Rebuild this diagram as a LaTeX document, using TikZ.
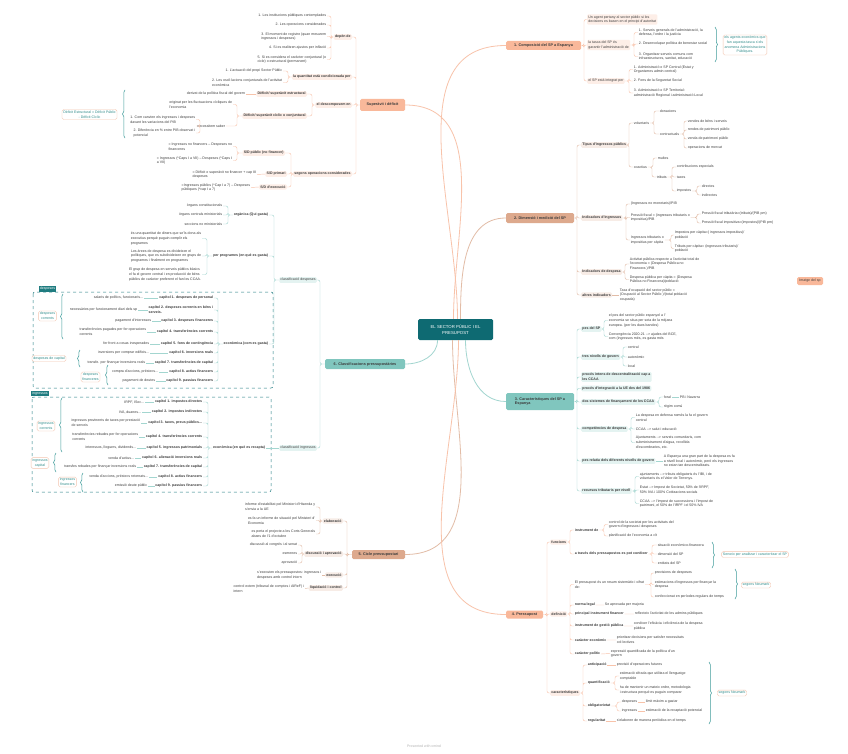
\documentclass[tikz,border=0pt]{standalone}
\usepackage{fontspec}
\setmainfont{Liberation Sans}
\usetikzlibrary{decorations.pathreplacing}

\definecolor{ink}{HTML}{3C3C3C}
\definecolor{salfill}{HTML}{F9B89A}
\definecolor{tanfill}{HTML}{DDA98D}
\definecolor{teafill}{HTML}{80C6BE}
\definecolor{rootfill}{HTML}{0E6A72}
\definecolor{salbg}{HTML}{FDEEE7}
\definecolor{tanbg}{HTML}{F7ECE6}
\definecolor{teabg}{HTML}{E4F3F1}
\definecolor{salline}{HTML}{F8C3AA}
\definecolor{tanline}{HTML}{E2BCA6}
\definecolor{tealine}{HTML}{A3D6D0}
\definecolor{brcol}{HTML}{3F9C9B}
\definecolor{notetext}{HTML}{2D8A88}
\definecolor{notedraw}{HTML}{F3C4AE}
\definecolor{teadark}{HTML}{1F7C80}

\newcommand\fs{\fontsize{3.55}{4.7}\selectfont}
\newcommand\ft{\fontsize{3.8}{4.8}\selectfont}
\newcommand\arr{-{}->}

\tikzset{
  leaf/.style={font=\fs, text=ink, inner sep=0.7pt, align=left},
  lw/.style={leaf, anchor=west},
  le/.style={leaf, anchor=east},
  bld/.style={font=\fs\bfseries},
  salbox/.style={fill=salbg, rounded corners=1.2pt, inner sep=1.2pt},
  tanbox/.style={fill=tanbg, rounded corners=1.2pt, inner sep=1.2pt},
  teabox/.style={fill=teabg, rounded corners=1.2pt, inner sep=1.2pt},
  topic/.style={font=\ft\bfseries, text=ink, rounded corners=1.5pt, inner sep=1pt},
  rootnode/.style={fill=rootfill, text=white, font=\fontsize{4.3}{5.6}\selectfont, align=center,
    rounded corners=1.5pt, minimum width=75pt, minimum height=21pt},
  sline/.style={draw=salline, line width=0.45pt, rounded corners=2pt},
  aline/.style={draw=tanline, line width=0.45pt, rounded corners=2pt},
  tline/.style={draw=tealine, line width=0.45pt, rounded corners=2pt},
  brc/.style={draw=brcol, line width=0.5pt, decorate, decoration={brace, amplitude=2.5pt}},
  note/.style={draw=notedraw, fill=white, rounded corners=1.5pt, text=notetext, font=\fs,
    inner sep=1.3pt, align=center, line width=0.4pt},
  tagbox/.style={fill=teadark, text=white, font=\fs, inner sep=1pt},
  dbox/.style={draw=teadark, dashed, rounded corners=2pt, line width=0.5pt}
}

\begin{document}
\begin{tikzpicture}[x=1pt,y=-1pt]
\fill[white] (0,0) rectangle (848,754);
\useasboundingbox (0,0) rectangle (848,754);

% centre i temes
\node[rootnode] (root) at (455.5,329.5) {EL SECTOR PÚBLIC I EL\\PRESUPOST};
\node[topic, fill=salfill, minimum width=75pt, minimum height=9pt] (t1) at (543.5,45.5) {1. Composició del SP a Espanya};
\node[topic, fill=tanfill, minimum width=68pt, minimum height=10pt] (t2) at (540,218) {2. Dimensió i medició del SP};
\node[topic, fill=teafill, minimum width=68pt, minimum height=17pt, align=left] (t3) at (540,401.5) {3. Característiques del SP a\\Espanya};
\node[topic, fill=salfill, minimum width=37pt, minimum height=8pt] (t4) at (524.5,614.5) {4. Pressupost};
\node[topic, fill=tanfill, minimum width=53pt, minimum height=9pt] (t5) at (378.5,554.5) {5. Cicle pressupostari};
\node[topic, fill=teafill, minimum width=80pt, minimum height=10pt] (t6) at (365,364) {6. Classificacions pressupostàries};
\node[topic, fill=salfill, minimum width=45pt, minimum height=12pt] (sup) at (382.5,105) {Superàvit i dèficit};
\node[topic, fill=salfill, minimum width=26pt, minimum height=8pt, font=\fs] (img) at (810,281) {Imatge del sp};

\draw[salline, line width=0.8pt] ([xshift=2pt]root.north) to[out=90,in=180] (t1.west);
\draw[salline, line width=0.8pt] ([xshift=-2pt]root.north) to[out=90,in=0] (sup.east);
\draw[tanline, line width=0.8pt] ([xshift=5pt]root.north) to[out=90,in=180] (t2.west);
\draw[tealine, line width=0.8pt] ([xshift=-18pt]root.south) to[out=-90,in=0] (t6.east);
\draw[tealine, line width=0.8pt] ([xshift=10pt]root.south) to[out=-90,in=180] (t3.west);
\draw[tanline, line width=0.8pt] ([xshift=-3pt]root.south) to[out=-90,in=0] (t5.east);
\draw[salline, line width=0.8pt] ([xshift=3pt]root.south) to[out=-90,in=180] (t4.west);

% Superàvit i dèficit
\node[le, salbox, bld] (depen) at (352,37) {depèn de};
\node[le] (dep1) at (327,16) {1. Les institucions públiques contemplades};
\node[le] (dep2) at (327,25) {2. Les operacions considerades};
\node[le] (dep3) at (327,36.5) {3. El moment de registre (quan mesurem\\ingressos i despeses)};
\node[le] (dep4) at (327,48) {4. Si es realitzen ajustos per inflació};
\node[le] (dep5) at (327,59.5) {5. Si es considera el caràcter conjuntural (o\\cicle) o estructural (permanent)};
\node[le, salbox, bld] (quant) at (352,77) {la quantitat està condicionada per};
\node[le] (quantA) at (283,71) {1. L'actuació del propi Sector Públic};
\node[le] (quantB) at (283,82.5) {2. Les oscil·lacions conjunturals de l'activitat\\econòmica};
\node[le, salbox, bld] (desc) at (352,105) {el descomposem en};
\node[le, salbox, bld] (estr) at (307,94) {Dèficit/ superàvit estructural};
\node[le] (estrA) at (246,94) {derivat de la política fiscal del govern};
\node[le, salbox, bld] (cicl) at (307,116) {Dèficit/ superàvit cíclic o conjuntural};
\node[le] (ciclA) at (233,104.5) {originat per les fluctuacions cícliques de\\l'economia};
\node[le] (neces) at (226,126) {necessitem saber};
\node[le] (necesA) at (196,119.5) {1. Com canvien els ingressos i despeses\\davant les variacions del PIB};
\node[le] (necesB) at (196,133) {2. Diferència en \% entre PIB observat i\\potencial};
\node[le, salbox, bld] (segons) at (352,174) {segons operacions considerades};
\node[le, salbox, bld] (sdpub) at (285,153) {S/D públic (no financer)};
\node[le] (sdpubA) at (233,146.5) {= Ingressos no financers – Despeses no\\financeres};
\node[le] (sdpubB) at (233,160.5) {= Ingressos (*Caps I a VII) – Despeses (*Caps I\\a VII)};
\node[le, salbox, bld] (sdprim) at (287,174) {S/D primari};
\node[le] (sdprimA) at (257,174.5) {= Dèficit o superàvit no financer + cap III\\despeses};
\node[le, salbox, bld] (sdexec) at (287,187) {S/D d'execució};
\node[le] (sdexecA) at (251,187.5) {=Ingressos públics (*Cap I a 7) – Despeses\\públiques (*cap I a 7)};
\draw[brc] (125,138) -- (125,90);
\node[note] (defnote) at (89.5,114.5) {Dèficit Estructural = Dèficit Públic\\- Dèficit Cíclic};

\draw[sline] (depen.east) -- ++(4,0) |- (sup.west) (quant.east) -- ++(4,0) |- (sup.west)
  (desc.east) -- ++(4,0) |- (sup.west) (segons.east) -- ++(4,0) |- (sup.west);
\draw[sline] (dep1.east) -- ++(4,0) |- (depen.west) (dep2.east) -- ++(4,0) |- (depen.west)
  (dep3.east) -- ++(4,0) |- (depen.west) (dep4.east) -- ++(4,0) |- (depen.west)
  (dep5.east) -- ++(4,0) |- (depen.west);
\draw[sline] (quantA.east) -- ++(5,0) |- (quant.west) (quantB.east) -- ++(5,0) |- (quant.west);
\draw[sline] (estr.east) -- ++(5,0) |- (desc.west) (cicl.east) -- ++(5,0) |- (desc.west);
\draw[sline] (estrA.east) -- (estr.west);
\draw[sline] (ciclA.east) -- ++(4,0) |- (cicl.west) (neces.east) -- ++(11,0) |- (cicl.west);
\draw[sline] (necesA.east) -- ++(4,0) |- (neces.west) (necesB.east) -- ++(4,0) |- (neces.west);
\draw[sline] (sdpub.east) -- ++(6,0) |- (segons.west) (sdprim.east) -- ++(4,0) |- (segons.west)
  (sdexec.east) -- ++(4,0) |- (segons.west);
\draw[sline] (sdpubA.east) -- ++(4,0) |- (sdpub.west) (sdpubB.east) -- ++(4,0) |- (sdpub.west);
\draw[sline] (sdprimA.east) -- (sdprim.west);
\draw[sline] (sdexecA.east) -- (sdexec.west);

% 6. Classificacions pressupostàries
\node[le, teabox] (cdesp) at (317,280) {classificació despeses};
\node[le, teabox] (cingr) at (317,448) {classificació ingressos};
\node[le, bld] (organ) at (269,215) {orgànica (Qui gasta)};
\node[le] (org1) at (223,206) {òrgans constitucionals};
\node[le] (org2) at (223,215) {òrgans centrals ministerials};
\node[le] (org3) at (223,224) {seccions no ministerials};
\node[le, bld] (progr) at (269,256) {per programes (en què es gasta)};
\node[le] (prog1) at (202,238.5) {és una quantitat de diners que se'ls dona als\\executius perquè puguin complir els\\programes};
\node[le] (prog2) at (202,256) {Les àrees de despesa es divideixen el\\polítiques, que es subdivideixen en grups de\\programes i finalment en programes};
\node[le] (prog3) at (202,274.5) {El grup de despesa en serveis públics bàsics\\el fa el govern central i en producció de béns\\públics de caràcter preferent el fan les CCAA.};
\node[le, bld] (econd) at (269,344) {econòmica (com es gasta)};
\node[le, bld] (dc1) at (214,298) {capítol 1. despeses de personal};
\node[le, bld] (dc2) at (214,310) {capítol 2. despeses corrents en béns i\\serveis.};
\node[le, bld] (dc3) at (214,321) {capítol 3. despeses financeres};
\node[le, bld] (dc4) at (214,332) {capítol 4. transferències corrents};
\node[le, bld] (dc5) at (214,344) {capítol 5. fons de contingència};
\node[le, bld] (dc6) at (214,353) {capítol 6. inversions reals};
\node[le, bld] (dc7) at (214,363) {capítol 7. transferències de capital};
\node[le, bld] (dc8) at (214,372) {capítol 8. actius financers};
\node[le, bld] (dc9) at (214,381) {capítol 9. passius financers};
\node[le] (dl1) at (144,298) {salaris de polítics, funcionaris...};
\node[le] (dl2) at (138,310) {necessàries per funcionament diari dels sp};
\node[le] (dl3) at (152,321) {pagament d'interessos};
\node[le] (dl4) at (147,332) {transferències pagades per fer operacions\\corrents};
\node[le] (dl5) at (150,344) {fer front a cosas inesperades};
\node[le] (dl6) at (150,353) {inversions per comprar edificis...};
\node[le] (dl7) at (146,363) {transfe. per finançar inversions reals};
\node[le] (dl8) at (159,372) {compra d'accions, préstecs...};
\node[le] (dl9) at (156,381) {pagament de deutes};
\node[le, bld] (econi) at (266,448) {econòmica (en què es recapta)};
\node[le, bld] (ic1) at (203,402) {capítol 1. impostos directes};
\node[le, bld] (ic2) at (203,412) {capítol 2. impostos indirectes};
\node[le, bld] (ic3) at (203,423) {capítol 3. taxes, preus públics...};
\node[le, bld] (ic4) at (203,437) {capítol 4. transferències corrents};
\node[le, bld] (ic5) at (203,448) {capítol 5. ingressos patrimonials};
\node[le, bld] (ic6) at (203,458) {capítol 6. alienació inversions reals};
\node[le, bld] (ic7) at (203,467) {capítol 7. transferències de capital};
\node[le, bld] (ic8) at (203,477) {capítol 8. actius financers};
\node[le, bld] (ic9) at (203,486) {capítol 9. passius financers};
\node[le] (il1) at (145,402) {IRPF, ISoc...};
\node[le] (il2) at (142,412) {IVA, duanes...};
\node[le] (il3) at (141,423) {ingressos provinents de taxes per prestació\\de serveis};
\node[le] (il4) at (139,437) {transferències rebudes per fer operacions\\corrents};
\node[le] (il5) at (137,448) {interessos, lloguers, dividends...};
\node[le] (il6) at (135,458) {venda d'actius...};
\node[le] (il7) at (137,467) {transfes rebudes per finançar inversions reals};
\node[le] (il8) at (149,477) {venda d'accions, préstecs retornats...};
\node[le] (il9) at (148,486) {emissió deute públic};

\draw[dbox] (33,292) rectangle (273,388);
\node[tagbox] (tagdesp) at (47.5,289) {despeses};
\draw[dbox] (32,397) rectangle (271,492);
\node[tagbox] (tagingr) at (40,393.5) {ingressos};
\node[note] (gdc) at (47.5,316) {despeses\\corrents};
\draw[brc] (63,339) -- (63,294);
\node[note] (gdk) at (49,358.5) {despeses de capital};
\draw[brc] (80,367) -- (80,350);
\node[note] (gdf) at (90.5,377) {despeses\\financeres};
\draw[brc] (108,385) -- (108,365);
\node[note] (gic) at (46,426) {ingressos\\corrents};
\draw[brc] (62,452) -- (62,398);
\node[note] (gik) at (40,463) {ingressos\\capital};
\draw[brc] (56,472) -- (56,453);
\node[note] (gif) at (67.5,482) {ingressos\\financers};
\draw[brc] (83,492) -- (83,473);

\draw[tline] (cdesp.east) -- ++(3,0) |- (t6.west) (cingr.east) -- ++(3,0) |- (t6.west);
\draw[tline] (organ.east) -- ++(5,0) |- (cdesp.west) (progr.east) -- ++(5,0) |- (cdesp.west)
  (econd.east) -- ++(5,0) |- (cdesp.west);
\draw[tline] (org1.east) -- ++(5,0) |- (organ.west) (org2.east) -- ++(5,0) |- (organ.west)
  (org3.east) -- ++(5,0) |- (organ.west);
\draw[tline] (prog1.east) -- ++(5,0) |- (progr.west) (prog2.east) -- ++(5,0) |- (progr.west)
  (prog3.east) -- ++(5,0) |- (progr.west);
\draw[tline] (dc1.east) -- ++(4,0) |- (econd.west) (dc2.east) -- ++(4,0) |- (econd.west)
  (dc3.east) -- ++(4,0) |- (econd.west) (dc4.east) -- ++(4,0) |- (econd.west)
  (dc5.east) -- ++(4,0) |- (econd.west) (dc6.east) -- ++(4,0) |- (econd.west)
  (dc7.east) -- ++(4,0) |- (econd.west) (dc8.east) -- ++(4,0) |- (econd.west)
  (dc9.east) -- ++(4,0) |- (econd.west);
\draw[tline] (dl1.east) -- (dc1.west) (dl2.east) -- (dc2.west) (dl3.east) -- (dc3.west)
  (dl4.east) -- (dc4.west) (dl5.east) -- (dc5.west) (dl6.east) -- (dc6.west)
  (dl7.east) -- (dc7.west) (dl8.east) -- (dc8.west) (dl9.east) -- (dc9.west);
\draw[tline] (econi.east) -- (cingr.west);
\draw[tline] (ic1.east) -- ++(5,0) |- (econi.west) (ic2.east) -- ++(5,0) |- (econi.west)
  (ic3.east) -- ++(5,0) |- (econi.west) (ic4.east) -- ++(5,0) |- (econi.west)
  (ic5.east) -- ++(5,0) |- (econi.west) (ic6.east) -- ++(5,0) |- (econi.west)
  (ic7.east) -- ++(5,0) |- (econi.west) (ic8.east) -- ++(5,0) |- (econi.west)
  (ic9.east) -- ++(5,0) |- (econi.west);
\draw[tline] (il1.east) -- (ic1.west) (il2.east) -- (ic2.west) (il3.east) -- (ic3.west)
  (il4.east) -- (ic4.west) (il5.east) -- (ic5.west) (il6.east) -- (ic6.west)
  (il7.east) -- (ic7.west) (il8.east) -- (ic8.west) (il9.east) -- (ic9.west);

% 5. Cicle pressupostari
\node[le, tanbox, bld] (elab) at (343,521) {elaboració};
\node[le, tanbox, bld] (disc) at (343,554) {discussió i aprovació};
\node[le, tanbox, bld] (exec) at (343,575) {execució};
\node[le, tanbox, bld] (liqu) at (343,588) {liquidació i control};
\node[le] (elab1) at (316,507) {informe d'estabilitat pel Ministeri d'Hisenda y\\s'envia a la UE};
\node[le] (elab2) at (316,520.5) {es fa un informe de situació pel Ministeri d'\\Economia};
\node[le] (elab3) at (316,534) {es porta el projecte a les Corts Generals\\abans de l'1 d'octubre};
\node[le] (disc1) at (298,545) {discussió al congrés i al senat};
\node[le] (disc2) at (298,554) {esmenes};
\node[le] (disc3) at (298,563) {aprovació};
\node[le] (exec1) at (322,575) {s'executen els pressupostos: ingressos i\\despeses amb control intern};
\node[le] (liqu1) at (305,588.5) {control extern (tribunal de comptes i AIReF) i\\intern};
\draw[aline] (elab.east) -- ++(4,0) |- (t5.west) (disc.east) -- ++(4,0) |- (t5.west)
  (exec.east) -- ++(4,0) |- (t5.west) (liqu.east) -- ++(4,0) |- (t5.west);
\draw[aline] (elab1.east) -- ++(4,0) |- (elab.west) (elab2.east) -- ++(4,0) |- (elab.west)
  (elab3.east) -- ++(4,0) |- (elab.west);
\draw[aline] (disc1.east) -- ++(4,0) |- (disc.west) (disc2.east) -- ++(4,0) |- (disc.west)
  (disc3.east) -- ++(4,0) |- (disc.west);
\draw[aline] (exec1.east) -- (exec.west);
\draw[aline] (liqu1.east) -- (liqu.west);

% 1. Composició del SP a Espanya
\node[lw, salbox] (t1a) at (587,19.5) {Un agent pertany al sector públic si les\\decisions es basen en el principi d'autoritat};
\node[lw, salbox] (t1b) at (587,45) {la tasca del SP és\\garantir l'administració de};
\node[lw, salbox] (t1c) at (587,81) {el SP està integrat per};
\node[lw] (t1b1) at (638,32.5) {1. Serveis generals de l'administració, la\\defensa, l'ordre i la justícia};
\node[lw] (t1b2) at (638,44) {2. Desenvolupar política de benestar social};
\node[lw] (t1b3) at (638,56.5) {3. Organitzar serveis comuns com\\infraestructures, sanitat, educació};
\draw[brc] (715,27) -- (715,62);
\node[note] (t1note) at (745,45) {els agents econòmics que\\fan aquesta tasca s'els\\anomena Administracions\\Públiques.};
\node[lw] (t1c1) at (633,69.5) {1. Administració o SP Central (Estat y\\Organismes admin central)};
\node[lw] (t1c2) at (633,81) {2. Fons de la Seguretat Social};
\node[lw] (t1c3) at (633,93) {3. Administració o SP Territorial:\\administració Regional i administració Local};
\draw[sline] (t1a.west) -- ++(-3,0) |- (t1.east) (t1b.west) -- ++(-3,0) |- (t1.east)
  (t1c.west) -- ++(-3,0) |- (t1.east);
\draw[sline] (t1b1.west) -- ++(-4,0) |- (t1b.east) (t1b2.west) -- ++(-4,0) |- (t1b.east)
  (t1b3.west) -- ++(-4,0) |- (t1b.east);
\draw[sline] (t1c1.west) -- ++(-4,0) |- (t1c.east) (t1c2.west) -- ++(-4,0) |- (t1c.east)
  (t1c3.west) -- ++(-4,0) |- (t1c.east);

% 2. Dimensió i medició del SP
\node[lw, tanbox, bld] (tipus) at (581,145) {Tipus d'ingressos públics};
\node[lw] (volu) at (633,123) {voluntaris};
\node[lw] (dona) at (659,111) {donacions};
\node[lw] (contr) at (659,134) {contractuals};
\node[lw] (contr1) at (687,121) {vendes de béns i serveis};
\node[lw] (contr2) at (687,130) {rendes de patrimoni públic};
\node[lw] (contr3) at (687,139) {venda de patrimoni públic};
\node[lw] (contr4) at (687,148) {operacions de mercat};
\node[lw] (coac) at (633,167) {coactius};
\node[lw] (mult) at (657,158) {multes};
\node[lw] (trib) at (656,177) {tributs};
\node[lw] (trib1) at (676,167) {contribucions especials};
\node[lw] (trib2) at (676,177) {taxes};
\node[lw] (trib3) at (676,191) {impostos};
\node[lw] (imp1) at (701,186) {directes};
\node[lw] (imp2) at (701,195) {indirectes};
\node[lw, tanbox, bld] (inding) at (581,218) {Indicadors d'ingressos};
\node[lw] (ii1) at (630,204) {(Ingressos no monetaris)/PIB};
\node[lw] (ii2) at (630,217.5) {Pressió fiscal = (ingressos tributaris o\\impositius)/PIB};
\node[lw] (ii3) at (630,240) {Ingressos tributaris o\\impositius per càpita};
\node[lw] (ii21) at (701,214) {Pressió fiscal tributària=(tributs)/(PIB pm)};
\node[lw] (ii22) at (701,223) {Pressió fiscal impositiva=(impostos)/(PIB pm)};
\node[lw] (ii31) at (674,235) {Impostos per càpita=( ingressos impositius)/\\població};
\node[lw] (ii32) at (674,248.5) {Tributs per càpita= (ingressos tributaris)/\\població};
\node[lw, tanbox, bld] (inddes) at (581,272) {Indicadors de despesa};
\node[lw] (id1) at (629,264) {Activitat pública respecte a l'activitat total de\\l'economia = (Despesa Pública no\\Financera )/PIB};
\node[lw] (id2) at (629,279.5) {Despesa pública per càpita = (Despesa\\Pública no Financera)/població};
\node[lw, tanbox, bld] (altres) at (581,295) {altres indicadors};
\node[lw] (alt1) at (619,295) {Taxa d'ocupació del sector públic =\\(Ocupació al Sector Públic )/(total població\\ocupada)};
\draw[aline] (tipus.west) -- ++(-4,0) |- (t2.east) (inding.west) -- ++(-4,0) |- (t2.east)
  (inddes.west) -- ++(-4,0) |- (t2.east) (altres.west) -- ++(-4,0) |- (t2.east);
\draw[aline] (volu.west) -- ++(-4,0) |- (tipus.east) (coac.west) -- ++(-4,0) |- (tipus.east);
\draw[aline] (dona.west) -- ++(-5,0) |- (volu.east) (contr.west) -- ++(-5,0) |- (volu.east);
\draw[aline] (contr1.west) -- ++(-3,0) |- (contr.east) (contr2.west) -- ++(-3,0) |- (contr.east)
  (contr3.west) -- ++(-3,0) |- (contr.east) (contr4.west) -- ++(-3,0) |- (contr.east);
\draw[aline] (mult.west) -- ++(-4,0) |- (coac.east) (trib.west) -- ++(-4,0) |- (coac.east);
\draw[aline] (trib1.west) -- ++(-4,0) |- (trib.east) (trib2.west) -- ++(-4,0) |- (trib.east)
  (trib3.west) -- ++(-4,0) |- (trib.east);
\draw[aline] (imp1.west) -- ++(-4,0) |- (trib3.east) (imp2.west) -- ++(-4,0) |- (trib3.east);
\draw[aline] (ii1.west) -- ++(-4,0) |- (inding.east) (ii2.west) -- ++(-4,0) |- (inding.east)
  (ii3.west) -- ++(-4,0) |- (inding.east);
\draw[aline] (ii21.west) -- ++(-4,0) |- (ii2.east) (ii22.west) -- ++(-4,0) |- (ii2.east);
\draw[aline] (ii31.west) -- ++(-3,0) |- (ii3.east) (ii32.west) -- ++(-3,0) |- (ii3.east);
\draw[aline] (id1.west) -- ++(-4,0) |- (inddes.east) (id2.west) -- ++(-4,0) |- (inddes.east);
\draw[aline] (alt1.west) -- (altres.east);

% 3. Característiques del SP a Espanya
\node[lw, teabox, bld] (pes) at (581,329) {pes del SP};
\node[lw] (pes1) at (608,320.5) {el pes del sector públic espanyol a l'\\economia se situa per sota de la mitjana\\europea. (per les dues bandes)};
\node[lw] (pes2) at (608,336.5) {Convergència 2020-21 \arr{} ajudes del BCE,\\com (ingressos més, es gasta més};
\node[lw, teabox, bld] (nivells) at (581,357) {tres nivells de govern};
\node[lw] (niv1) at (627,347) {central};
\node[lw] (niv2) at (627,357) {autonòmic};
\node[lw] (niv3) at (627,366) {local};
\node[lw, teabox, bld] (descen) at (581,377) {procés intens de descentralització cap a\\les CCAA};
\node[lw, teabox, bld] (integr) at (581,388.5) {procés d'integració a la UE des del 1986};
\node[lw, teabox, bld] (finan) at (581,402) {dos sistemes de finançament de les CCAA};
\node[lw] (foral) at (663,397) {foral};
\node[lw] (navarra) at (679,397) {PB i Navarra};
\node[lw] (comu) at (663,407) {règim comú};
\node[lw, teabox, bld] (compet) at (581,429) {competències de despesa};
\node[lw] (comp1) at (635,417.5) {La despesa en defensa només la fa el govern\\central};
\node[lw] (comp2) at (635,429) {CCAA \arr{} salut i educació};
\node[lw] (comp3) at (635,442.5) {Ajuntaments \arr{} serveis comunitaris, com\\subministrament d'aigua, recollida\\d'escombraries, etc.};
\node[lw, teabox, bld] (relat) at (581,461) {pes relatiu dels diferents nivells de govern};
\node[lw] (relat1) at (663,461) {A Espanya una gran part de la despesa es fa\\a nivell local i autonòmic, però els ingressos\\no estan tan descentralitzats.};
\node[lw, teabox, bld] (recur) at (581,491) {recursos tributaris per nivell};
\node[lw] (rec1) at (639,476.5) {ajuntaments \arr{} tributs obligatoris és l'IBI, i de\\voluntaris és el Valor de Terrenys.};
\node[lw] (rec2) at (639,490) {Estat \arr{} Impost de Societat, 50\% de l'IRPF,\\50\% IVA i 100\% Cotitzacions socials};
\node[lw] (rec3) at (639,503.5) {CCAA \arr{} l'impost de successions i l'impost de\\patrimoni, el 50\% de l'IRPF i el 50\% IVA};
\draw[tline] (pes.west) -- ++(-4,0) |- (t3.east) (nivells.west) -- ++(-4,0) |- (t3.east)
  (descen.west) -- ++(-4,0) |- (t3.east) (integr.west) -- ++(-4,0) |- (t3.east)
  (finan.west) -- ++(-4,0) |- (t3.east) (compet.west) -- ++(-4,0) |- (t3.east)
  (relat.west) -- ++(-4,0) |- (t3.east) (recur.west) -- ++(-4,0) |- (t3.east);
\draw[tline] (pes1.west) -- ++(-4,0) |- (pes.east) (pes2.west) -- ++(-4,0) |- (pes.east);
\draw[tline] (niv1.west) -- ++(-4,0) |- (nivells.east) (niv2.west) -- ++(-4,0) |- (nivells.east)
  (niv3.west) -- ++(-4,0) |- (nivells.east);
\draw[tline] (foral.west) -- ++(-4,0) |- (finan.east) (comu.west) -- ++(-4,0) |- (finan.east);
\draw[tline] (navarra.west) -- (foral.east);
\draw[tline] (comp1.west) -- ++(-4,0) |- (compet.east) (comp2.west) -- ++(-4,0) |- (compet.east)
  (comp3.west) -- ++(-4,0) |- (compet.east);
\draw[tline] (relat1.west) -- (relat.east);
\draw[tline] (rec1.west) -- ++(-4,0) |- (recur.east) (rec2.west) -- ++(-4,0) |- (recur.east)
  (rec3.west) -- ++(-4,0) |- (recur.east);

% 4. Pressupost
\node[lw, salbox, bld] (funcions) at (550,542) {funcions};
\node[lw, bld] (instr) at (574,530) {instrument de};
\node[lw] (instr1) at (608,524.5) {control de la societat per les activitats del\\govern d'ingressos i despeses};
\node[lw] (instr2) at (608,536) {planificació de l'economia a c/t};
\node[lw, bld] (atrav) at (574,554) {a través dels pressupostos es pot conèixer};
\node[lw] (atrav1) at (657,545) {situació econòmico-financera};
\node[lw] (atrav2) at (657,554) {dimensió del SP};
\node[lw] (atrav3) at (657,563) {entitats del SP};
\draw[brc] (712,542) -- (712,568);
\node[note] (fnote) at (755,554.5) {Serveix per analitzar i caracteritzar el SP};
\node[lw, salbox, bld] (defin) at (550,614) {definició};
\node[lw] (resum) at (574,584.5) {El pressupost és un resum sistemàtic i xifrat\\de:};
\node[lw] (resum1) at (654,573) {previsions de despeses};
\node[lw] (resum2) at (654,584.5) {estimacions d'ingressos per finançar la\\despesa};
\node[lw] (resum3) at (654,597) {confeccionat en períodes regulars de temps};
\draw[brc] (735,569) -- (735,599);
\node[note] (dnote) at (756,585) {segons Neumark};
\node[lw, bld] (norma) at (574,605) {norma legal};
\node[lw] (norma1) at (604,605) {Se aprovada per majoria};
\node[lw, bld] (princ) at (574,614) {principal instrument financer};
\node[lw] (princ1) at (634,614) {reflecteix l'activitat de les admins públiques};
\node[lw, bld] (gestio) at (574,626) {instrument de gestió pública};
\node[lw] (gestio1) at (633,626) {conèixer l'eficàcia i eficiència de la despesa\\pública};
\node[lw, bld] (ceco) at (574,640) {caràcter econòmic};
\node[lw] (ceco1) at (616,640) {prioritzar decisions per satisfer necessitats\\col·lectives};
\node[lw, bld] (cpol) at (574,654) {caràcter polític};
\node[lw] (cpol1) at (610,653.5) {expressió quantificada de la política d'un\\govern};
\node[lw, salbox, bld] (caract) at (550,693) {característiques};
\node[lw, bld] (antic) at (587,665) {anticipació};
\node[lw] (antic1) at (616,665) {previsió d'operacions futures};
\node[lw, bld] (quanti) at (587,683) {quantificació};
\node[lw] (quanti1) at (619,676) {estimació xifrada que utilitza el llenguatge\\comptable};
\node[lw] (quanti2) at (619,690) {ha de mantenir un mateix ordre, metodologia\\i estructura perquè es puguin comparar};
\node[lw, bld] (oblig) at (587,706) {obligatorietat};
\node[lw] (obdes) at (621,702) {despeses};
\node[lw] (obdes1) at (645,702) {límit màxim a gastar};
\node[lw] (obing) at (621,711) {ingressos};
\node[lw] (obing1) at (645,711) {estimació de la recaptació potencial};
\node[lw, bld] (regul) at (587,721) {regularitat};
\node[lw] (regul1) at (616,721) {s'elaboren de manera periòdica en el temps};
\draw[brc] (709,662) -- (709,724);
\node[note] (cnote) at (732,693) {segons Neumark};
\draw[sline] (funcions.west) -- ++(-3,0) |- (t4.east) (defin.west) -- ++(-3,0) |- (t4.east)
  (caract.west) -- ++(-3,0) |- (t4.east);
\draw[sline] (instr.west) -- ++(-4,0) |- (funcions.east) (atrav.west) -- ++(-4,0) |- (funcions.east);
\draw[sline] (instr1.west) -- ++(-4,0) |- (instr.east) (instr2.west) -- ++(-4,0) |- (instr.east);
\draw[sline] (atrav1.west) -- ++(-5,0) |- (atrav.east) (atrav2.west) -- ++(-5,0) |- (atrav.east)
  (atrav3.west) -- ++(-5,0) |- (atrav.east);
\draw[sline] (resum.west) -- ++(-4,0) |- (defin.east) (norma.west) -- ++(-4,0) |- (defin.east)
  (princ.west) -- ++(-4,0) |- (defin.east) (gestio.west) -- ++(-4,0) |- (defin.east)
  (ceco.west) -- ++(-4,0) |- (defin.east) (cpol.west) -- ++(-4,0) |- (defin.east);
\draw[sline] (resum1.west) -- ++(-3,0) |- (resum.east) (resum2.west) -- ++(-3,0) |- (resum.east)
  (resum3.west) -- ++(-3,0) |- (resum.east);
\draw[sline] (norma1.west) -- (norma.east) (princ1.west) -- (princ.east)
  (gestio1.west) -- (gestio.east) (ceco1.west) -- (ceco.east) (cpol1.west) -- (cpol.east);
\draw[sline] (antic.west) -- ++(-4,0) |- (caract.east) (quanti.west) -- ++(-4,0) |- (caract.east)
  (oblig.west) -- ++(-4,0) |- (caract.east) (regul.west) -- ++(-4,0) |- (caract.east);
\draw[sline] (antic1.west) -- (antic.east) (regul1.west) -- (regul.east);
\draw[sline] (quanti1.west) -- ++(-4,0) |- (quanti.east) (quanti2.west) -- ++(-4,0) |- (quanti.east);
\draw[sline] (obdes.west) -- ++(-4,0) |- (oblig.east) (obing.west) -- ++(-4,0) |- (oblig.east);
\draw[sline] (obdes1.west) -- (obdes.east) (obing1.west) -- (obing.east);

\node[font=\fs, text=black!30] (credit) at (424,746) {Presented with xmind};
\end{tikzpicture}
\end{document}
